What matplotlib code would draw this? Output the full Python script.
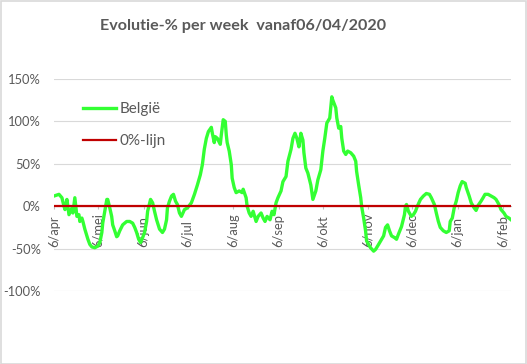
import matplotlib
matplotlib.use("Agg")
import matplotlib.pyplot as plt
from matplotlib.patches import Rectangle
from datetime import datetime, timedelta

plt.rcParams['font.family'] = ['Lato', 'DejaVu Sans']

start = datetime(2020, 4, 6)

# days after 06/04/2020 and weekly evolution in %
days = [0, 3.4, 5.4, 6.8, 7.5, 8.8, 10.2, 12.2, 12.9, 14.2, 15.6, 17.0, 17.6, 19.0, 19.7,
        21.0, 22.4, 23.1, 24.4, 25.8, 27.8, 29.9, 31.2, 32.6, 33.2, 34.6, 36.0, 36.6, 38.0,
        39.3, 40.0, 41.4, 42.7, 43.4, 44.8, 46.8, 49.5, 51.6, 53.6, 55.0, 56.3, 57.7, 59.0,
        60.4, 61.7, 63.1, 63.8, 65.8, 67.2, 68.5, 69.9, 71.9, 73.9, 75.3, 76.7, 77.3, 78.7,
        80.1, 81.4, 82.8, 84.1, 85.5, 86.8, 88.9, 90.9, 93.6, 95.7, 97.7, 99.7, 101.1, 102.4,
        103.8, 105.2, 107.2, 107.9, 109.2, 109.9, 111.3, 113.3, 114.0, 115.3, 116.7, 117.4,
        118.0, 119.4, 120.8, 121.4, 122.8, 124.1, 126.2, 128.2, 128.9, 130.9, 131.6, 133.0,
        134.3, 135.7, 137.7, 139.1, 141.1, 142.5, 143.8, 145.2, 147.2, 148.6, 149.9, 151.3,
        152.6, 154.7, 156.0, 158.1, 159.4, 161.5, 162.8, 164.2, 165.5, 166.9, 168.2, 169.6,
        170.3, 171.6, 173.0, 175.0, 176.4, 178.4, 179.8, 181.8, 183.2, 184.5, 185.9, 187.9,
        189.3, 190.0, 192.0, 192.7, 194.0, 195.4, 196.1, 197.4, 198.8, 200.1, 202.2, 204.2,
        205.6, 206.2, 207.6, 209.0, 209.6, 211.0, 212.3, 213.0, 215.7, 217.8, 219.1, 221.2,
        223.2, 224.6, 225.9, 227.3, 228.6, 230.0, 232.0, 233.4, 234.7, 236.8, 238.8, 239.5,
        240.2, 241.5, 243.5, 244.9, 246.3, 247.6, 249.7, 251.7, 253.7, 255.8, 257.1, 259.2,
        260.5, 261.9, 263.2, 265.3, 267.3, 269.3, 270.0, 271.4, 272.7, 274.1, 275.4, 276.8,
        278.1, 280.2, 280.9, 282.9, 284.3, 286.3, 287.6, 289.0, 291.0, 292.4, 293.7, 295.8,
        297.8, 299.9, 301.2, 303.2, 304.6, 306.6, 308.0, 310.0, 311.4]
belgie = [12, 14, 10, 0, -4, 8, -10, -2, -8, 10, -12, -10, -18, -14, -18,
          -27, -35, -39, -45, -48, -49, -47, -43, -31, -20, -6, 8, 8, -2,
          -12, -22, -29, -36, -35, -29, -22, -18, -18, -20, -25, -31, -39, -43,
          -37, -31, -18, -6, 8, 4, -6, -16, -27, -31, -27, -16, -2, 6,
          12, 14, 6, 2, -8, -12, -4, -2, 4, 14, 25, 37, 49, 67,
          80, 88, 93, 86, 75, 82, 80, 73, 84, 102, 100, 84,
          75, 65, 49, 33, 22, 16, 18, 16, 20, 10, 0, -8,
          -12, -6, -18, -12, -8, -14, -18, -12, -16, -6, -10, 4,
          10, 18, 29, 35, 53, 67, 80, 86, 80, 70, 86, 78,
          63, 45, 39, 25, 8, 18, 31, 43, 65, 80, 98, 104,
          129, 125, 116, 104, 92, 94, 80, 65, 61, 65, 63, 59,
          53, 41, 25, 10, 0, -14, -29, -41, -49, -53, -51, -45,
          -39, -35, -25, -22, -29, -35, -37, -39, -33, -24, -10, 0,
          2, -6, -12, -10, -6, 0, 8, 12, 15, 14, 10, 2,
          -8, -18, -25, -29, -31, -29, -18, -14, -2, 6, 16, 24,
          29, 27, 22, 12, 4, -2, -5, 1, 6, 10, 14, 14,
          12, 10, 8, 2, -4, -8, -12, -14, -16]
nul_lijn = [0 for _ in days]

tick_dates = [datetime(2020, 4, 6), datetime(2020, 5, 6), datetime(2020, 6, 6),
              datetime(2020, 7, 6), datetime(2020, 8, 6), datetime(2020, 9, 6),
              datetime(2020, 10, 6), datetime(2020, 11, 6), datetime(2020, 12, 6),
              datetime(2021, 1, 6), datetime(2021, 2, 6)]
tick_labels = ['6/apr', '6/mei', '6/jun', '6/jul', '6/aug', '6/sep', '6/okt',
               '6/nov', '6/dec', '6/jan', '6/feb']
y_ticks = [-100, -50, 0, 50, 100, 150]
y_labels = ['-100%', '-50%', '0%', '50%', '100%', '150%']

dates = [start + timedelta(days=d) for d in days]

fig = plt.figure(figsize=(5.27, 3.64), dpi=100)
ax = fig.add_axes([54 / 527, 1 - 291 / 364, 457 / 527, 212 / 364])

ax.plot(dates, belgie, color='#33ff33', lw=2.4, label='België', zorder=3)
ax.plot(dates, nul_lijn, color='#c00000', lw=1.6, label='0%-lijn', zorder=4)

ax.set_xlim(dates[0], dates[-1])
ax.set_ylim(-100, 150)
ax.set_yticks(y_ticks)
ax.set_yticklabels(y_labels)
ax.grid(axis='y', color='#d9d9d9', lw=0.8)
ax.set_axisbelow(True)

for s in ['top', 'right', 'left']:
    ax.spines[s].set_visible(False)
ax.spines['bottom'].set_position(('data', 0))
ax.spines['bottom'].set_color('#bfbfbf')

ax.set_xticks(tick_dates)
ax.set_xticklabels(tick_labels, rotation=90, rotation_mode='anchor', ha='left', va='center')
ax.tick_params(axis='x', direction='out', length=2.5, color='#bfbfbf', pad=27,
               labelsize=9.3, labelcolor='#595959')
ax.tick_params(axis='y', length=0, pad=9.5, labelsize=9.3, labelcolor='#595959')

ax.legend(loc='upper left', bbox_to_anchor=(83 / 527, 1 - 102 / 364),
          bbox_transform=fig.transFigure, frameon=False, fontsize=11,
          handlelength=2.15, handletextpad=0.25, borderpad=0, borderaxespad=0,
          labelspacing=1.2, labelcolor='#595959')

fig.text(0.462, 0.929, 'Evolutie-% per week  vanaf06/04/2020', ha='center', va='center',
         fontsize=11.6, fontweight='bold', color='#595959')

fig.patches.append(Rectangle((0.001, 0.001), 0.997, 0.996, transform=fig.transFigure,
                             fill=False, edgecolor='#d9d9d9', lw=1.2))

fig.savefig('out.png', dpi=100)
